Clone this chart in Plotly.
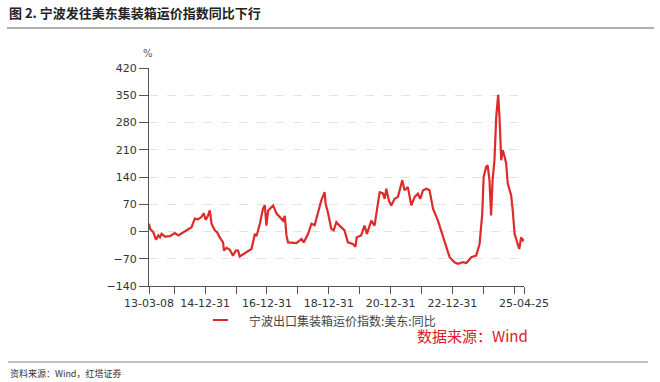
import plotly.graph_objects as go

# ---- data ----
dates = [
    "2013-03-08", "2013-03-20", "2013-04-28", "2013-05-30", "2013-06-25", "2013-07-16",
    "2013-08-04", "2013-09-13", "2013-11-10", "2014-01-07", "2014-02-17", "2014-04-16",
    "2014-06-13", "2014-07-24", "2014-09-01", "2014-10-08", "2014-11-17", "2014-12-15",
    "2015-01-08", "2015-02-02", "2015-02-24", "2015-03-17", "2015-04-24", "2015-05-22",
    "2015-06-22", "2015-07-31", "2015-08-11", "2015-09-09", "2015-10-19", "2015-11-25",
    "2015-12-28", "2016-01-25", "2016-02-13", "2016-03-25", "2016-05-22", "2016-07-01",
    "2016-08-10", "2016-08-29", "2016-10-08", "2016-11-14", "2016-12-06", "2016-12-24",
    "2017-01-14", "2017-02-24", "2017-03-14", "2017-04-23", "2017-05-31", "2017-07-09",
    "2017-07-30", "2017-08-18", "2017-09-06",
    "2017-10-16", "2017-12-14", "2018-02-13", "2018-03-10", "2018-05-01", "2018-06-10",
    "2018-07-17", "2018-08-25", "2018-10-04", "2018-11-12", "2018-11-24", "2018-12-20",
    "2019-01-30", "2019-02-27", "2019-03-31", "2019-05-08", "2019-07-05", "2019-08-14",
    "2019-10-11", "2019-11-12", "2019-11-27", "2020-01-18", "2020-02-26", "2020-03-26",
    "2020-05-17", "2020-06-24", "2020-08-24", "2020-10-01", "2020-10-22", "2020-11-10",
    "2020-12-10", "2021-01-08", "2021-02-16", "2021-03-28", "2021-05-18", "2021-06-13",
    "2021-07-23", "2021-09-01", "2021-10-12", "2021-11-18", "2021-12-16", "2022-01-18",
    "2022-02-27", "2022-04-05", "2022-05-15", "2022-07-13", "2022-09-10", "2022-11-08",
    "2022-11-28", "2023-01-25", "2023-03-07", "2023-05-04", "2023-06-14", "2023-08-11",
    "2023-10-08", "2023-11-17", "2023-12-19", "2024-01-04", "2024-02-03", "2024-02-21",
    "2024-03-13", "2024-04-01", "2024-04-19", "2024-05-11", "2024-06-01", "2024-06-24",
    "2024-07-09", "2024-07-30", "2024-08-17", "2024-09-08", "2024-09-26", "2024-10-15",
    "2024-11-24", "2024-12-13", "2025-01-04", "2025-02-09", "2025-02-28", "2025-03-22",
    "2025-04-11", "2025-04-25",
]
yoy = [
    20, 7, -2, -21, -10, -15,
    -6, -13, -12, -4, -10, -2,
    7, 11, 33, 31, 37, 47,
    30, 40, 54, 20, 3, -2,
    -15, -28, -49, -42, -47, -62,
    -49, -49, -64, -58, -49, -45,
    -6, -12, 20, 59, 67, 15,
    54, 64, 67, 46, 37, 28,
    40, -10, -28,
    -29, -30, -19, -28, -6, 20,
    16, 50, 80, 101, 71, 50,
    7, 3, 24, 15, 3, -28,
    -32, -39, -15, -10, 15, -6,
    28, 15, 101, 98, 84, 110,
    80, 67, 84, 89, 132, 106,
    114, 67, 89, 97, 84, 106,
    110, 106, 59, 28, -15, -58,
    -66, -79, -83, -79, -81, -66,
    -62, -32, 46, 140, 166, 170,
    132, 41, 132, 183, 295, 351,
    295, 183, 209, 192, 175, 123,
    93, 54, -6, -32, -45, -15,
    -23, -20,
]

series_name = "宁波出口集装箱运价指数:美东:同比"
y_ticks = [-140, -70, 0, 70, 140, 210, 280, 350, 420]
x_tick_dates = ["2013-03-08", "2013-12-31", "2014-12-31", "2015-12-31", "2016-12-31",
                "2017-12-31", "2018-12-31", "2019-12-31", "2020-12-31", "2021-12-31",
                "2022-12-31", "2023-12-31", "2024-12-31", "2025-04-25"]
x_tick_labels = ["13-03-08", "", "14-12-31", "", "16-12-31", "", "18-12-31", "",
                 "20-12-31", "", "22-12-31", "", "", "25-04-25"]

title_text = "图 2. 宁波发往美东集装箱运价指数同比下行"
source_text = "资料来源：Wind，红塔证券"
stamp_text = "数据来源：Wind"

# ---- layout geometry (pixels) ----
W, H = 660, 382
L, R, T, B = 149, 136, 68, 96
PW, PH = W - L - R, H - T - B

def px(x):
    return (x - L) / PW

def py(y):
    return (H - B - y) / PH

LINE_RED = "#dd2a2a"
FONT = "DejaVu Sans, sans-serif"
CJK = "Noto Sans CJK SC, sans-serif"

fig = go.Figure()
fig.add_trace(go.Scatter(x=dates, y=yoy, mode="lines", name=series_name,
                         line=dict(color=LINE_RED, width=2.2), showlegend=False))

fig.update_layout(
    width=W, height=H,
    margin=dict(l=L, r=R, t=T, b=B, pad=0),
    paper_bgcolor="white", plot_bgcolor="white",
    font=dict(family=FONT, size=11, color="#333333"),
    xaxis=dict(type="date", range=["2013-03-08", "2025-04-25"],
               tickvals=x_tick_dates, ticktext=x_tick_labels,
               ticks="outside", ticklen=7, tickcolor="#555555", tickwidth=1,
               showline=True, linecolor="#555555", linewidth=1,
               showgrid=False, zeroline=False,
               tickfont=dict(size=11, color="#333333", family=FONT)),
    yaxis=dict(range=[-140, 420], tickvals=y_ticks,
               ticks="outside", ticklen=9, tickcolor="#555555", tickwidth=1,
               showline=True, linecolor="#555555", linewidth=1,
               showgrid=True, gridcolor="#e3e3e3", griddash="dash", gridwidth=1,
               zeroline=False,
               tickfont=dict(size=11, color="#333333", family=FONT)),
)

shapes = [
    # rule under title
    dict(type="line", xref="paper", yref="paper", x0=px(7), x1=px(654), y0=py(28), y1=py(28),
         line=dict(color="#b0b0b0", width=2)),
    # rule above footer
    dict(type="line", xref="paper", yref="paper", x0=px(8), x1=px(648), y0=py(362), y1=py(362),
         line=dict(color="#c0c0c0", width=2)),
    # legend sample
    dict(type="line", xref="paper", yref="paper", x0=px(213), x1=px(228), y0=py(320), y1=py(320),
         line=dict(color=LINE_RED, width=2)),
]

annotations = [
    dict(text="<b>" + title_text + "</b>", xref="paper", yref="paper", x=px(7), y=py(12),
         xanchor="left", yanchor="middle", showarrow=False,
         font=dict(family=CJK, size=13, color="#222222")),
    dict(text="%", xref="paper", yref="paper", x=px(148), y=py(53),
         xanchor="center", yanchor="middle", showarrow=False,
         font=dict(family=FONT, size=10, color="#555555")),
    dict(text=series_name, xref="paper", yref="paper", x=px(247), y=py(320),
         xanchor="left", yanchor="middle", showarrow=False,
         font=dict(family=CJK, size=12, color="#444444")),
    dict(text=stamp_text, xref="paper", yref="paper", x=px(415), y=py(335),
         xanchor="left", yanchor="middle", showarrow=False,
         font=dict(family=CJK, size=15, color="#d8202a")),
    dict(text=source_text, xref="paper", yref="paper", x=px(8), y=py(373),
         xanchor="left", yanchor="middle", showarrow=False,
         font=dict(family=CJK, size=9, color="#333333")),
]

fig.update_layout(shapes=shapes, annotations=annotations)
fig.write_html("out.html", config={"displayModeBar": False},
               post_script="document.body.style.margin='0';")
